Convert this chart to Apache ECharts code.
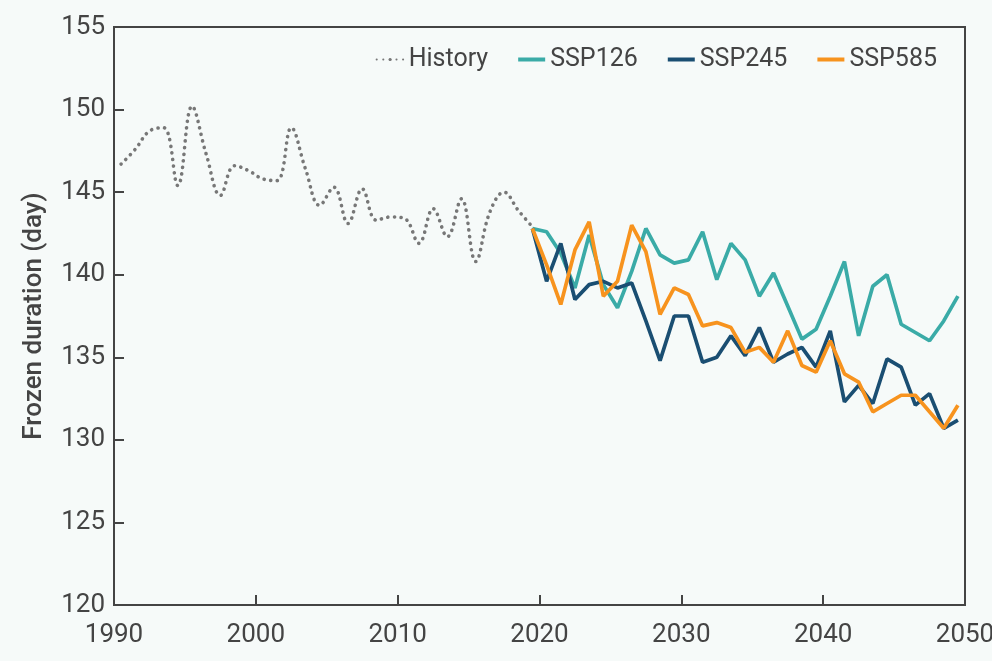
<!DOCTYPE html>
<html>
<head>
<meta charset="utf-8">
<title>Frozen duration</title>
<script src="https://cdn.jsdelivr.net/npm/echarts@6/dist/echarts.min.js"></script>
<style>
  html, body { margin: 0; padding: 0; background: #f6faf9; }
  #chart { width: 992px; height: 661px; }
</style>
</head>
<body>
<div id="chart"></div>
<script>
// years (annual means, drawn at mid-year)
var histYears = [1990, 1991, 1992, 1993, 1994, 1995, 1996, 1997, 1998, 1999,
                 2000, 2001, 2002, 2003, 2004, 2005, 2006, 2007, 2008, 2009,
                 2010, 2011, 2012, 2013, 2014, 2015, 2016, 2017, 2018, 2019];
var futYears = [2019, 2020, 2021, 2022, 2023, 2024, 2025, 2026, 2027, 2028,
                2029, 2030, 2031, 2032, 2033, 2034, 2035, 2036, 2037, 2038,
                2039, 2040, 2041, 2042, 2043, 2044, 2045, 2046, 2047, 2048, 2049];

var histValues = [146.7, 147.6, 148.7, 148.9, 145.4, 150.2, 147.3, 144.8, 146.6, 146.3,
                  145.8, 145.7, 148.9, 146.4, 144.2, 145.3, 143.1, 145.2, 143.3, 143.5,
                  143.4, 141.9, 144.0, 142.3, 144.6, 140.8, 143.8, 145.0, 143.9, 142.9];

var ssp126 = [142.8, 142.6, 141.3, 139.2, 142.4, 139.4, 138.0, 140.2, 142.8, 141.2,
              140.7, 140.9, 142.6, 139.7, 141.9, 140.9, 138.7, 140.1, 138.1, 136.1,
              136.7, 138.7, 140.8, 136.3, 139.3, 140.0, 137.0, 136.5, 136.0, 137.2, 138.7];

var ssp245 = [142.8, 139.6, 141.9, 138.5, 139.4, 139.6, 139.2, 139.5, 137.2, 134.8,
              137.5, 137.5, 134.7, 135.0, 136.3, 135.1, 136.8, 134.7, 135.2, 135.6,
              134.4, 136.6, 132.3, 133.3, 132.2, 134.9, 134.4, 132.1, 132.8, 130.7, 131.2];

var ssp585 = [142.8, 140.6, 138.2, 141.5, 143.2, 138.7, 139.6, 143.0, 141.4, 137.6,
              139.2, 138.8, 136.9, 137.1, 136.8, 135.3, 135.6, 134.7, 136.6, 134.5,
              134.1, 136.0, 134.0, 133.5, 131.7, 132.2, 132.7, 132.7, 131.7, 130.7, 132.1];

var yTicks = [120, 125, 130, 135, 140, 145, 150, 155];

function pairs(years, vals) {
    return vals.map(function (v, i) { return [years[i] + 0.5, v]; });
}

var axisColor = '#444';
var font = 'Roboto, "Noto Sans", sans-serif';

function lineSeries(name, color, data) {
    return {
        name: name,
        type: 'line',
        data: data,
        symbol: 'none',
        showSymbol: false,
        lineStyle: { color: color, width: 3.7 },
        itemStyle: { color: color },
        z: 3
    };
}

var option = {
    backgroundColor: '#f6faf9',
    animation: false,
    textStyle: { fontFamily: font },
    grid: {
        left: 114, right: 27, top: 27, bottom: 56,
        containLabel: false,
        outerBoundsMode: 'none',
        show: true,
        borderColor: axisColor,
        borderWidth: 2,
        backgroundColor: 'transparent'
    },
    legend: {
        right: 50,
        top: 42,
        itemWidth: 27,
        itemHeight: 4,
        itemGap: 30,
        textStyle: { fontSize: 25, color: axisColor, fontFamily: font },
        data: [
            { name: 'History' },
            { name: 'SSP126', icon: 'rect' },
            { name: 'SSP245', icon: 'rect' },
            { name: 'SSP585', icon: 'rect' }
        ]
    },
    xAxis: {
        type: 'value',
        min: 1990,
        max: 2050,
        interval: 10,
        axisLine: { lineStyle: { color: axisColor, width: 2 } },
        axisTick: { inside: true, length: 10, lineStyle: { color: axisColor, width: 2 } },
        axisLabel: {
            fontSize: 26, color: axisColor, margin: 17, fontFamily: font,
            formatter: function (v) { return String(v); }
        },
        splitLine: { show: false }
    },
    yAxis: {
        type: 'value',
        min: yTicks[0],
        max: yTicks[yTicks.length - 1],
        interval: 5,
        name: 'Frozen duration (day)',
        nameLocation: 'middle',
        nameGap: 67,
        nameTextStyle: { fontSize: 26, fontWeight: 500, color: axisColor, fontFamily: font },
        axisLine: { lineStyle: { color: axisColor, width: 2 } },
        axisTick: { inside: true, length: 10, lineStyle: { color: axisColor, width: 2 } },
        axisLabel: { fontSize: 26, color: axisColor, margin: 9, fontFamily: font },
        splitLine: { show: false }
    },
    series: [
        {
            name: 'History',
            type: 'line',
            data: pairs(histYears, histValues),
            symbol: 'none',
            showSymbol: false,
            smooth: 0.4,
            lineStyle: { color: '#777', width: 3.6, type: [0.1, 6.5], cap: 'round' },
            itemStyle: { color: '#777' },
            z: 2
        },
        lineSeries('SSP126', '#3aaba7', pairs(futYears, ssp126)),
        lineSeries('SSP245', '#1a4e72', pairs(futYears, ssp245)),
        lineSeries('SSP585', '#f7931e', pairs(futYears, ssp585))
    ]
};

var chart = echarts.init(document.getElementById('chart'));
chart.setOption(option);
window.addEventListener('resize', function () { chart.resize(); });
</script>
</body>
</html>
